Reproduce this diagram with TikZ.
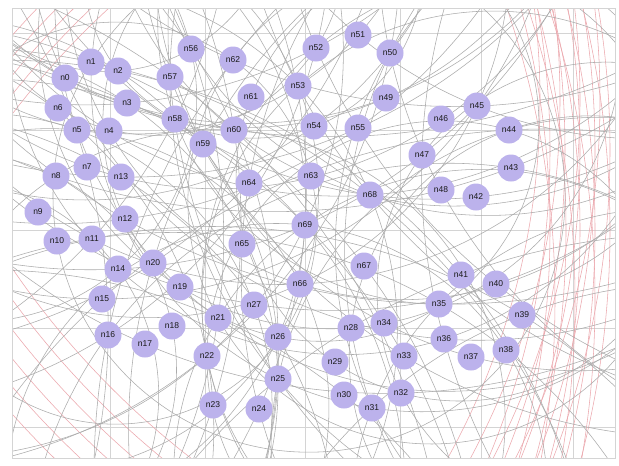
\documentclass[tikz,border=0pt]{standalone}
\usepackage{fontspec}
\setmainfont{Liberation Sans}
\usetikzlibrary{backgrounds}
\definecolor{nodefill}{RGB}{188,178,236}
\definecolor{edgegray}{RGB}{172,172,172}
\definecolor{edgered}{RGB}{236,168,174}
\definecolor{gridgray}{RGB}{212,212,212}
\begin{document}
\begin{tikzpicture}[x=1pt,y=-1pt,
  nd/.style={circle,fill=nodefill,minimum size=27pt,inner sep=0pt,
    font=\fontsize{8.5}{9}\selectfont,text=black!90},
  edge/.style={draw=edgegray,line width=0.55pt},
  redge/.style={draw=edgered,line width=0.55pt},
  gridline/.style={draw=gridgray,line width=0.9pt}]
\useasboundingbox (0,0) rectangle (619,466);
\foreach \nm/\x/\y in {0/65/78,1/91/62,2/118/71,3/127/103,4/109/131,5/77/130,6/58/108,
  7/87/167,8/56/176,9/38/212,10/57/241,11/92/239,12/125/219,13/121/177,
  14/118/269,15/102/299,16/108/335,17/145/344,18/172/326,19/180/287,20/153/263,
  21/218/318,22/207/356,23/213/405,24/259/409,25/278/379,26/278/337,27/254/305,
  28/351/328,29/335/362,30/344/395,31/372/408,32/401/393,33/404/356,34/384/323,
  35/439/304,36/444/339,37/471/357,38/506/350,39/522/315,40/496/284,41/461/275,
  42/476/197,43/511/168,44/509/130,45/477/106,46/441/119,47/422/155,48/441/190,
  49/386/98,50/390/53,51/358/35,52/316/48,53/298/86,54/314/126,55/358/128,
  56/191/49,57/170/77,58/175/119,59/203/144,60/234/130,61/251/97,62/233/60,
  63/311/176,64/249/183,65/242/244,66/300/284,67/364/266,68/370/195,69/305/225}
  \node[nd] (n\nm) at (\x,\y) {n\nm};
\begin{scope}[on background layer]
  \fill[white] (0,0) rectangle (619,466);
  \begin{scope}
    \clip (12,8) rectangle (615,458);
    % grid
    \foreach \gy in {33,130,230,328,427} \draw[gridline] (12,\gy) -- (615,\gy);
    \foreach \gx in {110,205,305,400,481,573} \draw[gridline] (\gx,8) -- (\gx,458);
    % red arcs, right side
    \foreach \r in {800,815,830,845,860} \draw[redge] (-250,150) circle[radius=\r];
    \foreach \r in {850,866,880,895,910} \draw[redge] (-300,230) circle[radius=\r];
    \foreach \r in {740,760,780,800} \draw[redge] (-200,100) circle[radius=\r];
    \foreach \r in {905,925,945} \draw[redge] (-350,300) circle[radius=\r];
    % red arcs, top left
    \foreach \r in {828,840,852,864,878} \draw[redge] (670,617) circle[radius=\r];
    % red arcs, bottom left
    \foreach \r in {832,850,868,886,904,922} \draw[redge] (700,-200) circle[radius=\r];
    % gray arcs: circles through pairs of nodes
    \pgfmathsetseed{11}
    \foreach \i in {1,...,96}{
      \pgfmathtruncatemacro\ea{random(0,69)}
      \pgfmathtruncatemacro\eb{mod(\ea+random(1,69),70)}
      \pgfmathsetmacro\Rr{random(170,680)/100}
      \pgfmathsetmacro\sg{2*random(0,1)-1}
      \path (n\ea.center); \pgfgetlastxy{\xa}{\ya}
      \path (n\eb.center); \pgfgetlastxy{\xb}{\yb}
      \pgfmathsetmacro\dx{(\xb-\xa)/100}
      \pgfmathsetmacro\dy{(\yb-\ya)/100}
      \pgfmathsetmacro\dd{sqrt(\dx*\dx+\dy*\dy)}
      \pgfmathsetmacro\Rr{max(\Rr,\dd/2+0.3)}
      \pgfmathsetmacro\hh{sqrt(\Rr*\Rr-\dd*\dd/4)}
      \pgfmathsetmacro\cx{(\xa+\xb)/2-\sg*\hh*\dy/\dd*100}
      \pgfmathsetmacro\cy{(\ya+\yb)/2+\sg*\hh*\dx/\dd*100}
      \pgfmathsetmacro\st{atan2(\ya-\cy,\xa-\cx)}
      \pgfmathsetmacro\Rp{\Rr*100}
      \draw[edge] (n\ea.center) arc[start angle=\st, delta angle=360, radius=\Rp pt];
    }
  \end{scope}
  \draw[gridline] (12,8) rectangle (615,458);
\end{scope}
\end{tikzpicture}
\end{document}
